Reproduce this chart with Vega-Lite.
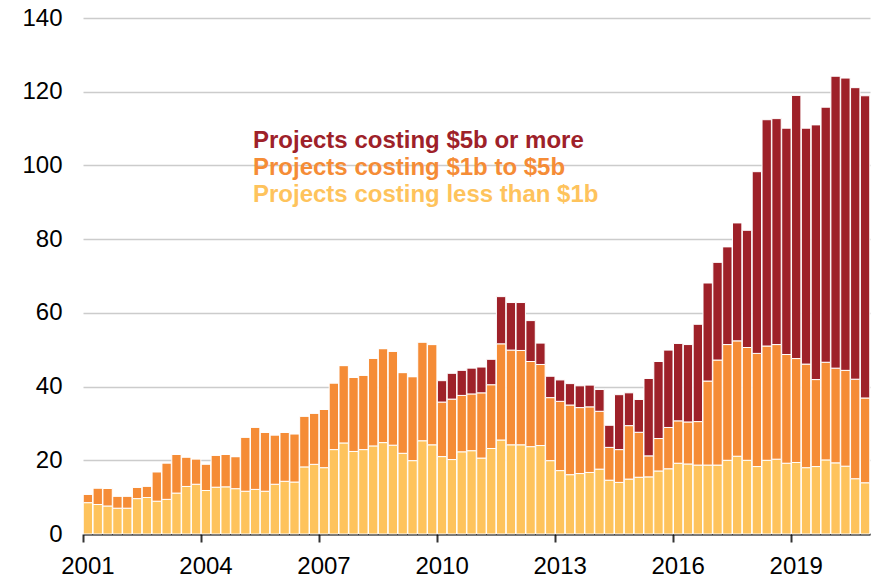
{
  "$schema": "https://vega.github.io/schema/vega-lite/v6.json",
  "autosize": "none",
  "width": 787,
  "height": 516,
  "padding": {"left": 83, "top": 18, "right": 2, "bottom": 43},
  "config": {"font": "Liberation Sans", "view": {"stroke": null}, "background": "white"},
  "data": {"values": [
    {"q": "2001 Q1", "small": 8.5, "mid": 2.3, "large": 0},
    {"q": "2001 Q2", "small": 8.0, "mid": 4.5, "large": 0},
    {"q": "2001 Q3", "small": 7.6, "mid": 4.8, "large": 0},
    {"q": "2001 Q4", "small": 7.0, "mid": 3.3, "large": 0},
    {"q": "2002 Q1", "small": 7.0, "mid": 3.3, "large": 0},
    {"q": "2002 Q2", "small": 9.6, "mid": 3.1, "large": 0},
    {"q": "2002 Q3", "small": 9.9, "mid": 3.1, "large": 0},
    {"q": "2002 Q4", "small": 8.9, "mid": 8.0, "large": 0},
    {"q": "2003 Q1", "small": 9.4, "mid": 9.9, "large": 0},
    {"q": "2003 Q2", "small": 11.1, "mid": 10.5, "large": 0},
    {"q": "2003 Q3", "small": 12.9, "mid": 8.0, "large": 0},
    {"q": "2003 Q4", "small": 13.5, "mid": 6.9, "large": 0},
    {"q": "2004 Q1", "small": 11.8, "mid": 7.2, "large": 0},
    {"q": "2004 Q2", "small": 12.7, "mid": 8.7, "large": 0},
    {"q": "2004 Q3", "small": 12.8, "mid": 8.8, "large": 0},
    {"q": "2004 Q4", "small": 12.3, "mid": 8.7, "large": 0},
    {"q": "2005 Q1", "small": 11.6, "mid": 14.7, "large": 0},
    {"q": "2005 Q2", "small": 12.1, "mid": 16.9, "large": 0},
    {"q": "2005 Q3", "small": 11.6, "mid": 16.0, "large": 0},
    {"q": "2005 Q4", "small": 13.5, "mid": 13.4, "large": 0},
    {"q": "2006 Q1", "small": 14.3, "mid": 13.3, "large": 0},
    {"q": "2006 Q2", "small": 14.1, "mid": 13.1, "large": 0},
    {"q": "2006 Q3", "small": 18.2, "mid": 13.8, "large": 0},
    {"q": "2006 Q4", "small": 18.9, "mid": 13.9, "large": 0},
    {"q": "2007 Q1", "small": 18.0, "mid": 15.8, "large": 0},
    {"q": "2007 Q2", "small": 22.9, "mid": 18.1, "large": 0},
    {"q": "2007 Q3", "small": 24.7, "mid": 21.0, "large": 0},
    {"q": "2007 Q4", "small": 22.4, "mid": 20.1, "large": 0},
    {"q": "2008 Q1", "small": 22.9, "mid": 20.2, "large": 0},
    {"q": "2008 Q2", "small": 23.9, "mid": 23.8, "large": 0},
    {"q": "2008 Q3", "small": 24.8, "mid": 25.5, "large": 0},
    {"q": "2008 Q4", "small": 24.1, "mid": 25.5, "large": 0},
    {"q": "2009 Q1", "small": 21.9, "mid": 21.9, "large": 0},
    {"q": "2009 Q2", "small": 19.9, "mid": 22.8, "large": 0},
    {"q": "2009 Q3", "small": 25.3, "mid": 26.8, "large": 0},
    {"q": "2009 Q4", "small": 24.2, "mid": 27.2, "large": 0},
    {"q": "2010 Q1", "small": 21.0, "mid": 14.8, "large": 5.8},
    {"q": "2010 Q2", "small": 20.2, "mid": 16.4, "large": 7.0},
    {"q": "2010 Q3", "small": 22.3, "mid": 15.3, "large": 6.8},
    {"q": "2010 Q4", "small": 22.6, "mid": 15.4, "large": 7.0},
    {"q": "2011 Q1", "small": 20.6, "mid": 17.7, "large": 7.0},
    {"q": "2011 Q2", "small": 23.2, "mid": 17.3, "large": 6.9},
    {"q": "2011 Q3", "small": 25.5, "mid": 26.1, "large": 12.8},
    {"q": "2011 Q4", "small": 24.2, "mid": 25.7, "large": 12.9},
    {"q": "2012 Q1", "small": 24.2, "mid": 25.6, "large": 13.0},
    {"q": "2012 Q2", "small": 23.7, "mid": 23.1, "large": 11.1},
    {"q": "2012 Q3", "small": 24.0, "mid": 22.0, "large": 5.8},
    {"q": "2012 Q4", "small": 19.9, "mid": 17.1, "large": 5.8},
    {"q": "2013 Q1", "small": 17.2, "mid": 18.8, "large": 5.8},
    {"q": "2013 Q2", "small": 16.1, "mid": 18.9, "large": 5.8},
    {"q": "2013 Q3", "small": 16.4, "mid": 17.9, "large": 5.9},
    {"q": "2013 Q4", "small": 16.7, "mid": 17.8, "large": 5.9},
    {"q": "2014 Q1", "small": 17.6, "mid": 15.7, "large": 5.9},
    {"q": "2014 Q2", "small": 14.6, "mid": 8.9, "large": 6.0},
    {"q": "2014 Q3", "small": 14.0, "mid": 8.9, "large": 14.9},
    {"q": "2014 Q4", "small": 14.9, "mid": 14.5, "large": 8.9},
    {"q": "2015 Q1", "small": 15.4, "mid": 12.2, "large": 8.9},
    {"q": "2015 Q2", "small": 15.5, "mid": 5.7, "large": 21.0},
    {"q": "2015 Q3", "small": 17.1, "mid": 8.8, "large": 20.9},
    {"q": "2015 Q4", "small": 17.7, "mid": 11.2, "large": 21.0},
    {"q": "2016 Q1", "small": 19.2, "mid": 11.5, "large": 21.0},
    {"q": "2016 Q2", "small": 19.0, "mid": 11.4, "large": 21.0},
    {"q": "2016 Q3", "small": 18.7, "mid": 11.8, "large": 26.4},
    {"q": "2016 Q4", "small": 18.7, "mid": 22.8, "large": 26.6},
    {"q": "2017 Q1", "small": 18.7, "mid": 28.5, "large": 26.5},
    {"q": "2017 Q2", "small": 20.0, "mid": 31.4, "large": 26.5},
    {"q": "2017 Q3", "small": 21.1, "mid": 31.3, "large": 32.0},
    {"q": "2017 Q4", "small": 20.0, "mid": 30.6, "large": 31.8},
    {"q": "2018 Q1", "small": 18.3, "mid": 30.7, "large": 49.3},
    {"q": "2018 Q2", "small": 20.0, "mid": 31.0, "large": 61.4},
    {"q": "2018 Q3", "small": 20.3, "mid": 31.1, "large": 61.3},
    {"q": "2018 Q4", "small": 19.2, "mid": 29.5, "large": 61.4},
    {"q": "2019 Q1", "small": 19.4, "mid": 28.2, "large": 71.4},
    {"q": "2019 Q2", "small": 18.0, "mid": 28.1, "large": 64.0},
    {"q": "2019 Q3", "small": 18.3, "mid": 23.6, "large": 69.1},
    {"q": "2019 Q4", "small": 20.1, "mid": 26.5, "large": 69.2},
    {"q": "2020 Q1", "small": 19.3, "mid": 25.7, "large": 79.2},
    {"q": "2020 Q2", "small": 18.4, "mid": 26.0, "large": 79.3},
    {"q": "2020 Q3", "small": 15.0, "mid": 27.0, "large": 79.1},
    {"q": "2020 Q4", "small": 13.9, "mid": 23.0, "large": 82.0}
  ]},
  "transform": [{"fold": ["small", "mid", "large"], "as": ["tier", "value"]}],
  "mark": {"type": "bar", "stroke": "white", "strokeWidth": 1},
  "encoding": {
    "x": {
      "field": "q", "type": "ordinal", "sort": null,
      "scale": {"paddingInner": 0.05, "paddingOuter": 0.025},
      "axis": {
        "title": null,
        "values": ["2001 Q1", "2004 Q1", "2007 Q1", "2010 Q1", "2013 Q1", "2016 Q1", "2019 Q1"],
        "labelExpr": "substring(datum.value, 0, 4)",
        "bandPosition": 0,
        "labelAngle": 0,
        "labelAlign": "center",
        "labelFontSize": 24,
        "labelColor": "#000000",
        "labelPadding": 12,
        "domainColor": "#000000",
        "domainWidth": 2,
        "tickColor": "#333333",
        "tickWidth": 2,
        "tickSize": 8,
        "grid": false
      }
    },
    "y": {
      "field": "value", "type": "quantitative", "stack": "zero",
      "scale": {"domain": [0, 140], "nice": false},
      "axis": {
        "title": null,
        "values": [0, 20, 40, 60, 80, 100, 120, 140],
        "domain": false,
        "ticks": false,
        "tickSize": 0,
        "labelPadding": 21,
        "labelFontSize": 24,
        "labelColor": "#000000",
        "gridColor": "#cccccc",
        "gridWidth": 1.5
      }
    },
    "color": {
      "field": "tier", "type": "nominal",
      "scale": {"domain": ["large", "mid", "small"], "range": ["#9E2129", "#F58C36", "#FEC35C"]},
      "legend": {
        "title": null,
        "orient": "none",
        "legendX": 146,
        "legendY": 111,
        "padding": 0,
        "symbolSize": 0,
        "symbolStrokeWidth": 0,
        "symbolOpacity": 0,
        "labelOffset": 0,
        "labelFontSize": 24,
        "labelFontWeight": "bold",
        "labelLimit": 500,
        "rowPadding": 3,
        "labelColor": {"expr": "datum.value == 'large' ? '#9E2129' : datum.value == 'mid' ? '#F58C36' : '#FEC35C'"},
        "labelExpr": "datum.value == 'large' ? 'Projects costing $5b or more' : datum.value == 'mid' ? 'Projects costing $1b to $5b' : 'Projects costing less than $1b'"
      }
    },
    "order": {"field": "tier", "sort": "descending"}
  }
}
